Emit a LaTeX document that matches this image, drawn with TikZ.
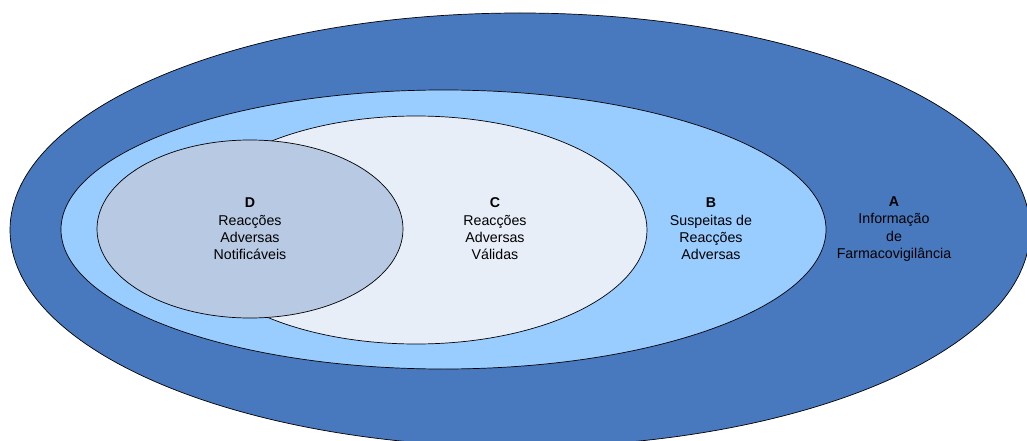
\documentclass[tikz,border=0pt]{standalone}
\usepackage{fontspec}
\setmainfont{Liberation Sans}
\usetikzlibrary{shapes.geometric}
\definecolor{setA}{HTML}{4878BE}
\definecolor{setB}{HTML}{99CCFF}
\definecolor{setC}{HTML}{E7EEF8}
\definecolor{setD}{HTML}{B8C9E3}
\tikzset{
  setline/.style={draw=black, line width=0.7pt},
  setlabel/.style={align=center, font=\fontsize{14.2}{17.4}\selectfont, inner sep=0pt}
}
\begin{document}
\begin{tikzpicture}[x=1pt, y=-1pt]
  \useasboundingbox (0,0) rectangle (1027,441);
  \fill[white] (0,0) rectangle (1027,441);
  \clip (0,0) rectangle (1027,441);
  % nested sets, outermost first
  \path[setline, fill=setA] (520,230) ellipse [x radius=510, y radius=217];
  \path[setline, fill=setB] (443.5,229.5) ellipse [x radius=382.5, y radius=139.5];
  \path[setline, fill=setC] (416,230) ellipse [x radius=231, y radius=114];
  \path[setline, fill=setD] (250,229) ellipse [x radius=153, y radius=89];
  % set labels
  \node[setlabel] (labD) at (250,229) {\textbf{D}\\Reacções\\Adversas\\Notificáveis};
  \node[setlabel] (labC) at (495,229) {\textbf{C}\\Reacções\\Adversas\\Válidas};
  \node[setlabel] (labB) at (711,229) {\textbf{B}\\Suspeitas de\\Reacções\\Adversas};
  \node[setlabel] (labA) at (894,229) {\textbf{A}\\Informação\\de\\Farmacovigilância};
\end{tikzpicture}
\end{document}
